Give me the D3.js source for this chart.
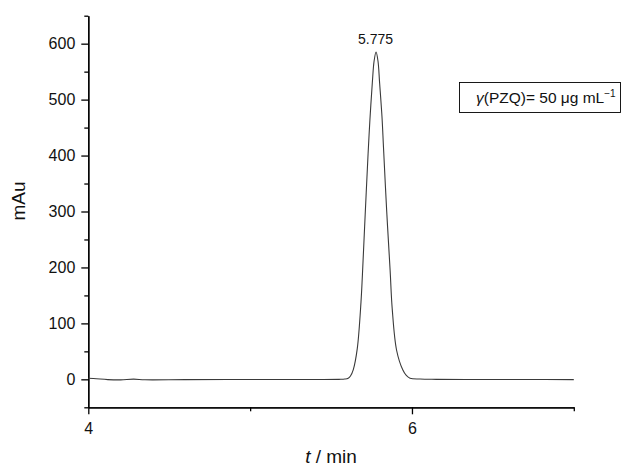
<!DOCTYPE html>
<html>
<head>
    <style>
        body { margin: 0; background: #fff; }
        svg { font-family: "Liberation Sans", Arial, sans-serif; }
        .axis path, .axis line { stroke: #000; stroke-width: 1.3; }
        .axis text { font-size: 16px; fill: #111; font-family: "Liberation Sans", Arial, sans-serif; }
    </style>
    <script src="https://d3js.org/d3.v7.min.js"></script>
</head>
<body>
    <svg width="622" height="466"></svg>
    <script>
        // chromatogram
        var times = [4.00, 4.05, 4.12, 4.20, 4.28, 4.35, 4.60, 5.00, 5.40, 5.55, 5.585, 5.606, 5.620, 5.637, 5.662, 5.685,
                     5.694, 5.711, 5.729, 5.740, 5.755, 5.766, 5.778, 5.790, 5.800, 5.815, 5.824, 5.844, 5.865,
                     5.878, 5.905, 5.943, 5.965, 5.988, 6.05, 6.15, 6.40, 6.70, 7.00];
        var mAu = [2.0, 1.0, -0.5, -1.0, 0.3, -0.8, -0.5, -0.3, -0.2, 0, 0.5, 2, 6, 17, 55, 138,
                   188, 295, 404, 463, 530, 569, 585, 569, 530, 468, 415, 300, 195,
                   126, 52, 17, 7, 2, 0.5, 0, -0.3, -0.4, -0.5];

        var xMajor = [4, 6], xMinor = [5, 7];
        var yMajor = [0, 100, 200, 300, 400, 500, 600];
        var yMinor = [-50, 50, 150, 250, 350, 450, 550, 650];
        var peakTime = 5.775, peakLabel = "5.775";

        var svg = d3.select("svg");
        var margin = {left: 88.3, right: 48, top: 15.7, bottom: 58.7};

        var x = d3.scaleLinear().domain([4, 7]).range([margin.left, 573.8]);
        var y = d3.scaleLinear().domain([-50, 650]).range([407.3, margin.top]);

        // axes: major ticks with labels, minor ones without
        svg.append("g").attr("class", "axis")
           .attr("transform", "translate(0," + y(-50) + ")")
           .call(d3.axisBottom(x).tickValues(xMajor).tickSize(7).tickSizeOuter(0).tickPadding(8).tickFormat(d3.format("d")));
        svg.append("g").attr("class", "axis minor")
           .attr("transform", "translate(0," + y(-50) + ")")
           .call(d3.axisBottom(x).tickValues(xMinor).tickSize(4).tickSizeOuter(0).tickFormat(""));

        svg.append("g").attr("class", "axis")
           .attr("transform", "translate(" + x(4) + ",0)")
           .call(d3.axisLeft(y).tickValues(yMajor).tickSize(7).tickSizeOuter(0).tickPadding(6).tickFormat(d3.format("d")));
        svg.append("g").attr("class", "axis minor")
           .attr("transform", "translate(" + x(4) + ",0)")
           .call(d3.axisLeft(y).tickValues(yMinor).tickSize(4).tickSizeOuter(0).tickFormat(""));

        // trace
        var line = d3.line()
            .x(function(d, i) { return x(times[i]); })
            .y(function(d) { return y(d); })
            .curve(d3.curveCatmullRom.alpha(0.5));

        svg.append("path")
           .datum(mAu)
           .attr("d", line)
           .attr("fill", "none")
           .attr("stroke", "#3a3a3a")
           .attr("stroke-width", 1.1);

        // peak label
        svg.append("text")
           .attr("x", x(peakTime))
           .attr("y", y(d3.max(mAu)) - 8)
           .attr("text-anchor", "middle")
           .style("font-size", "14px")
           .style("fill", "#111")
           .text(peakLabel);

        // legend box
        svg.append("rect")
           .attr("x", 459.5).attr("y", 82.5)
           .attr("width", 161).attr("height", 30)
           .attr("fill", "#fff").attr("stroke", "#000").attr("stroke-width", 0.9);

        var leg = svg.append("text")
           .attr("x", 476).attr("y", 103)
           .style("font-size", "15.5px")
           .style("fill", "#111");
        leg.append("tspan").style("font-style", "italic").text("\u03b3");
        leg.append("tspan").text("(PZQ)= 50 \u03bcg mL");
        leg.append("tspan").attr("dy", -6).style("font-size", "10px").text("\u22121");

        // axis titles
        svg.append("text")
           .attr("transform", "translate(25,201) rotate(-90)")
           .attr("text-anchor", "middle")
           .style("font-size", "19px")
           .style("fill", "#111")
           .text("mAu");

        var xt = svg.append("text")
           .attr("x", 331).attr("y", 463)
           .attr("text-anchor", "middle")
           .style("font-size", "19px")
           .style("fill", "#111");
        xt.append("tspan").style("font-style", "italic").text("t");
        xt.append("tspan").text(" / min");
    </script>
</body>
</html>
